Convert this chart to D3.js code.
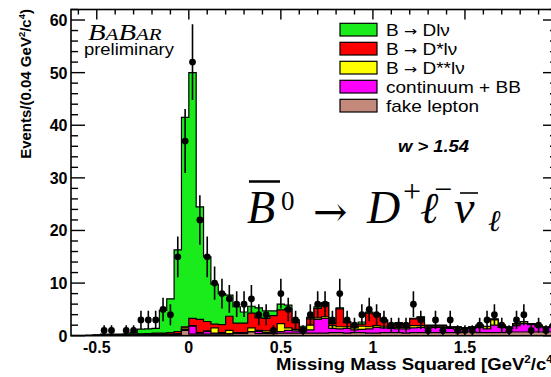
<!DOCTYPE html>
<html>
<head>
<meta charset="utf-8">
<script src="https://cdn.jsdelivr.net/npm/d3@7"></script>
<style>
  html, body { margin: 0; padding: 0; background: #fff; }
  svg { display: block; font-family: "Liberation Sans", Arial, Helvetica, sans-serif; }
</style>
</head>
<body>
<svg id="chart" width="551" height="377"></svg>
<script>
'use strict';

// bins of 0.04 GeV^2/c^4 from -0.64 to 2.0
var binLow = -0.64;
var binWidth = 0.04;

// data counts per bin
var dataCounts = [0, 0, 0, 0, 1, 1, 0, 1, 1, 3, 3, 3, 5, 4, 15, 37, 52, 22, 15, 10,
  8, 7, 6, 6, 7, 4, 4, 1, 8, 5, 3, 1, 4, 6, 6, 3, 8, 3, 2, 4,
  5, 4, 3, 2, 2, 2, 6, 3, 1, 3, 1, 3, 1, 1, 1, 2, 3, 4, 2, 1,
  3, 4, 1, 2, 1, 2];

// MC components (stacked bottom -> top)
var fakeLepton = [0, 0, 0, 0, 0.05, 0.05, 0.05, 0.05, 0.05, 0.1, 0.1, 0.1, 0.1, 0.1, 0.15, 1.0, 0.3, 0.3, 0.3, 0.3,
  0.3, 0.3, 0.4, 0.4, 0.7, 0.4, 0.4, 0.4, 0.5, 0.5, 0.5, 0.5, 0.5, 0.5, 0.5, 0.6, 0.6, 0.5, 0.6, 0.6,
  0.5, 0.5, 0.6, 0.6, 0.6, 0.5, 0.6, 0.6, 0.6, 0.6, 0.6, 0.6, 0.6, 0.7, 0.7, 0.6, 0.6, 0.6, 0.6, 0.7,
  0.7, 0.7, 0.7, 0.7, 0.7, 0.7];
var continuumBB = [0, 0, 0, 0.05, 0.05, 0.05, 0.05, 0.05, 0.1, 0.1, 0.1, 0.1, 0.1, 0.1, 0.15, 0.2, 1.5, 0.2, 0.5, 0.2,
  0.1, 0.1, 0.1, 0.1, 0.1, 0.4, 0.2, 0.3, 0.3, 0.5, 0.4, 0.3, 0.6, 2.6, 2.8, 0.8, 0.7, 0.9, 0.5, 0.6,
  0.8, 1.1, 0.9, 0.8, 0.7, 0.8, 0.9, 1.0, 0.9, 1.0, 1.0, 0.8, 0.6, 0.6, 0.7, 1.0, 0.7, 1.4, 1.0, 0.7,
  1.2, 1.6, 1.4, 1.0, 0.8, 1.0];
var dssLnu = [0, 0, 0, 0, 0, 0, 0, 0, 0.05, 0.05, 0.05, 0.1, 0.1, 0.1, 0.1, 0.3, 0.1, 0.1, 0.1, 1.0,
  0.2, 0.6, 0.1, 0.1, 0.7, 0.2, 0.3, 0.3, 1.5, 0.5, 0.3, 0.2, 0.9, 0.3, 0.3, 0.5, 0.4, 0.3, 0.4, 0.6,
  0.4, 0.3, 0.3, 0.2, 0.3, 0.3, 0.4, 0.3, 0.2, 0.2, 0.2, 0.2, 0.4, 0.1, 0.2, 0.3, 0.4, 1.0, 0.3, 0.2,
  0.3, 0.3, 0.1, 0.2, 0.1, 0.2];
var dsLnu = [0, 0, 0, 0, 0, 0, 0.05, 0.05, 0.1, 0.1, 0.15, 0.2, 0.2, 0.3, 0.4, 0.2, 1.4, 2.5, 1.8, 0.7,
  1.5, 2.7, 1.8, 1.8, 2.8, 2.4, 2.4, 2.8, 2.6, 3.6, 1.3, 0.5, 1.2, 1.8, 2.5, 0.4, 3.4, 0.8, 0.3, 0.4,
  2.6, 2.1, 1.0, 0.4, 0.7, 0.3, 1.3, 1.6, 0.2, 0.1, 0.1, 0.05, 0.05, 0.05, 0.05, 0.05, 0.05, 0.1, 0.05, 0.05,
  0.05, 0.05, 0.05, 0.05, 0.05, 0.05];
var dLnu = [0.05, 0.05, 0.1, 0.1, 0.2, 0.2, 0.15, 0.2, 0.3, 0.9, 0.9, 0.9, 4.3, 6.4, 15.5, 39.8, 46.7, 21.4, 12.3, 7.6,
  5.9, 4.0, 3.1, 2.1, 1.3, 1.9, 1.4, 0.9, 1.1, 0.7, 0.5, 0.3, 0.3, 0.3, 0.2, 0.2, 0.2, 0.2, 0.2, 0.4,
  0.2, 0.2, 0.2, 0.2, 0.2, 0.1, 0.1, 0.1, 0.1, 0.1, 0.1, 0.05, 0.05, 0.05, 0.05, 0.05, 0.05, 0.1, 0.05, 0.05,
  0.05, 0.05, 0.05, 0.05, 0.05, 0.05];

var seriesKeys = ['fake', 'cont', 'dss', 'ds', 'd'];
var seriesColors = {
  d: '#1aeb1a',
  ds: '#ff0000',
  dss: '#ffff00',
  cont: '#ff00ff',
  fake: '#c38a7c'
};
// legend order, top -> bottom; [before arrow, after arrow]
var legendKeys = ['d', 'ds', 'dss', 'cont', 'fake'];
var legendLabels = [['B ', ' Dl\u03bd'], ['B ', ' D*l\u03bd'], ['B ', ' D**l\u03bd'], ['continuum + BB'], ['fake lepton']];

var xTicksMajor = [-0.5, 0, 0.5, 1, 1.5];
var xTickLabels = ['-0.5', '0', '0.5', '1', '1.5'];
var yTicksMajor = [0, 10, 20, 30, 40, 50, 60];

var serif = '"Liberation Serif", "Times New Roman", serif';

var svg = d3.select('#chart');

var x = d3.scaleLinear().domain([-0.64, 2.0]).range([71, 557]);
var y = d3.scaleLinear().domain([0, 62]).range([335.7, 9.5]);

var rows = dataCounts.map(function (n, i) {
  return {
    lo: binLow + i * binWidth,
    hi: binLow + (i + 1) * binWidth,
    n: n,
    fake: fakeLepton[i],
    cont: continuumBB[i],
    dss: dssLnu[i],
    ds: dsLnu[i],
    d: dLnu[i]
  };
});

var stacked = d3.stack().keys(seriesKeys)(rows);

svg.append('defs').append('clipPath').attr('id', 'plotclip')
  .append('rect')
  .attr('x', x.range()[0]).attr('y', y.range()[1])
  .attr('width', x.range()[1] - x.range()[0])
  .attr('height', y.range()[0] - y.range()[1]);

var plot = svg.append('g').attr('clip-path', 'url(#plotclip)');

// step points for one cumulative layer
function steps(layer) {
  var pts = [];
  layer.forEach(function (s) {
    pts.push([s.data.lo, s[1]]);
    pts.push([s.data.hi, s[1]]);
  });
  return pts;
}

var area = d3.area()
  .x(function (p) { return x(p[0]); })
  .y0(y(0))
  .y1(function (p) { return y(p[1]); });

var line = d3.line()
  .x(function (p) { return x(p[0]); })
  .y(function (p) { return y(p[1]); });

// draw like THStack: largest cumulative first, each one over the previous
stacked.slice().reverse().forEach(function (layer) {
  var pts = steps(layer);
  plot.append('path')
    .attr('d', area(pts))
    .attr('fill', seriesColors[layer.key]);
  plot.append('path')
    .attr('d', line(pts))
    .attr('fill', 'none')
    .attr('stroke', '#000')
    .attr('stroke-width', 1.2);
});

// formula inset (white box)
svg.append('rect')
  .attr('x', 232).attr('y', 174)
  .attr('width', 306).attr('height', 64)
  .attr('fill', '#fff');

// data points with poisson errors
var pts = rows.filter(function (r) { return r.n > 0; });
var dp = plot.selectAll('g.dp').data(pts).enter().append('g').attr('class', 'dp');
dp.append('line')
  .attr('x1', function (r) { return x((r.lo + r.hi) / 2); })
  .attr('x2', function (r) { return x((r.lo + r.hi) / 2); })
  .attr('y1', function (r) { return y(r.n - Math.sqrt(r.n)); })
  .attr('y2', function (r) { return y(r.n + Math.sqrt(r.n)); })
  .attr('stroke', '#000')
  .attr('stroke-width', 1.6);
dp.append('circle')
  .attr('cx', function (r) { return x((r.lo + r.hi) / 2); })
  .attr('cy', function (r) { return y(r.n); })
  .attr('r', 3.4)
  .attr('fill', '#000');

// frame and ticks
var axes = svg.append('g');
axes.append('rect')
  .attr('x', x.range()[0]).attr('y', y.range()[1])
  .attr('width', x.range()[1] - x.range()[0])
  .attr('height', y.range()[0] - y.range()[1])
  .attr('fill', 'none')
  .attr('stroke', '#000')
  .attr('stroke-width', 1.6);

var yMinor = d3.range(0, 62.01, 2);
var xMinor = d3.range(-0.6, 2.001, 0.1).map(function (v) { return Math.round(v * 10) / 10; });

function isMajorY(v) { return v % 10 === 0; }
function isMajorX(v) { return Math.abs(v * 2 - Math.round(v * 2)) < 1e-6; }

axes.selectAll('line.yl').data(yMinor).enter().append('line')
  .attr('x1', x.range()[0])
  .attr('x2', function (v) { return x.range()[0] + (isMajorY(v) ? 14 : 7); })
  .attr('y1', function (v) { return y(v); })
  .attr('y2', function (v) { return y(v); })
  .attr('stroke', '#000').attr('stroke-width', 1.4);

axes.selectAll('line.yr').data(yMinor).enter().append('line')
  .attr('x1', x.range()[1])
  .attr('x2', function (v) { return x.range()[1] - (isMajorY(v) ? 14 : 7); })
  .attr('y1', function (v) { return y(v); })
  .attr('y2', function (v) { return y(v); })
  .attr('stroke', '#000').attr('stroke-width', 1.4);

axes.selectAll('line.xt').data(xMinor).enter().append('line')
  .attr('x1', function (v) { return x(v); })
  .attr('x2', function (v) { return x(v); })
  .attr('y1', y.range()[1])
  .attr('y2', function (v) { return y.range()[1] + (isMajorX(v) ? 10 : 5); })
  .attr('stroke', '#000').attr('stroke-width', 1.4);

// tick labels
axes.selectAll('text.yl').data(yTicksMajor).enter().append('text')
  .attr('x', 67.5)
  .attr('y', function (v) { return y(v) + 6; })
  .attr('text-anchor', 'end')
  .attr('font-size', 16)
  .attr('font-weight', 'bold')
  .text(function (v) { return v; });

axes.selectAll('text.xl').data(xTicksMajor).enter().append('text')
  .attr('x', function (v) { return x(v); })
  .attr('y', 352.5)
  .attr('text-anchor', 'middle')
  .attr('font-size', 16)
  .attr('font-weight', 'bold')
  .text(function (v, i) { return xTickLabels[i]; });

// axis titles
var xt = svg.append('text')
  .attr('transform', 'translate(276,370) scale(1.16,1)')
  .attr('font-size', 16)
  .attr('font-weight', 'bold');
xt.append('tspan').text('Missing Mass Squared [GeV');
xt.append('tspan').attr('font-size', 10).attr('dy', -7).text('2');
xt.append('tspan').attr('dy', 7).text('/c');
xt.append('tspan').attr('font-size', 10).attr('dy', -7).text('4');
xt.append('tspan').attr('dy', 7).text(']');

var yt = svg.append('text')
  .attr('transform', 'translate(31,9) rotate(-90)')
  .attr('text-anchor', 'end')
  .attr('font-size', 15)
  .attr('font-weight', 'bold');
yt.append('tspan').text('Events/(0.04 GeV');
yt.append('tspan').attr('font-size', 9.5).attr('dy', -6.5).text('2');
yt.append('tspan').attr('dy', 6.5).text('/c');
yt.append('tspan').attr('font-size', 9.5).attr('dy', -6.5).text('4');
yt.append('tspan').attr('dy', 6.5).text(')');

// BaBar logo
var logo = svg.append('text')
  .attr('transform', 'translate(88,40) scale(1.2,1)')
  .style('font-family', serif)
  .style('font-style', 'italic');
logo.append('tspan').attr('font-size', 24).text('B');
logo.append('tspan').attr('font-size', 17.5).text('A');
logo.append('tspan').attr('font-size', 24).text('B');
logo.append('tspan').attr('font-size', 17.5).text('AR');

svg.append('text')
  .attr('transform', 'translate(84,55) scale(1.15,1)')
  .attr('font-size', 16)
  .text('preliminary');

// legend
var leg = svg.append('g').selectAll('g').data(legendKeys).enter().append('g')
  .attr('transform', function (k, i) { return 'translate(340,' + (23.3 + i * 19) + ')'; });
leg.append('rect')
  .attr('width', 37).attr('height', 12.7)
  .attr('fill', function (k) { return seriesColors[k]; })
  .attr('stroke', '#000').attr('stroke-width', 1.2);
var legText = leg.append('text')
  .attr('transform', 'translate(46,12.9) scale(1.12,1)')
  .attr('font-size', 17);
legText.each(function (k, i) {
  var t = d3.select(this);
  var parts = legendLabels[i];
  t.append('tspan').text(parts[0]);
  if (parts.length > 1) {
    t.append('tspan').style('font-family', '"DejaVu Sans", sans-serif').attr('font-size', 14).text('\u2192');
    t.append('tspan').text(parts[1]);
  }
});

svg.append('text')
  .attr('transform', 'translate(398,152) scale(1.15,1)')
  .attr('font-size', 16)
  .attr('font-style', 'italic')
  .attr('font-weight', 'bold')
  .text('w > 1.54');

// decay formula
var f = svg.append('g').style('font-family', serif);
f.append('text').attr('x', 247).attr('y', 223).attr('font-size', 46).style('font-style', 'italic').text('B');
f.append('line').attr('x1', 249).attr('x2', 280).attr('y1', 181.5).attr('y2', 181.5).attr('stroke', '#000').attr('stroke-width', 2.5);
f.append('text').attr('x', 281).attr('y', 210).attr('font-size', 27).text('0');
f.append('text').attr('x', 313).attr('y', 226).attr('font-size', 41)
  .style('font-family', '"DejaVu Serif", serif').text('\u2192');
f.append('text').attr('x', 367).attr('y', 223).attr('font-size', 46).style('font-style', 'italic').text('D');
f.append('text').attr('x', 403).attr('y', 202).attr('font-size', 32).text('+');
f.append('text').attr('x', 420).attr('y', 223).attr('font-size', 44).style('font-style', 'italic').text('\u2113');
f.append('text').attr('x', 434).attr('y', 200).attr('font-size', 32).text('\u2212');
f.append('text').attr('x', 454).attr('y', 223).attr('font-size', 46).style('font-style', 'italic').text('\u03bd');
f.append('line').attr('x1', 460).attr('x2', 478).attr('y1', 193).attr('y2', 193).attr('stroke', '#000').attr('stroke-width', 1.6);
f.append('text').attr('x', 488).attr('y', 231).attr('font-size', 30).style('font-style', 'italic').text('\u2113');
</script>
</body>
</html>
